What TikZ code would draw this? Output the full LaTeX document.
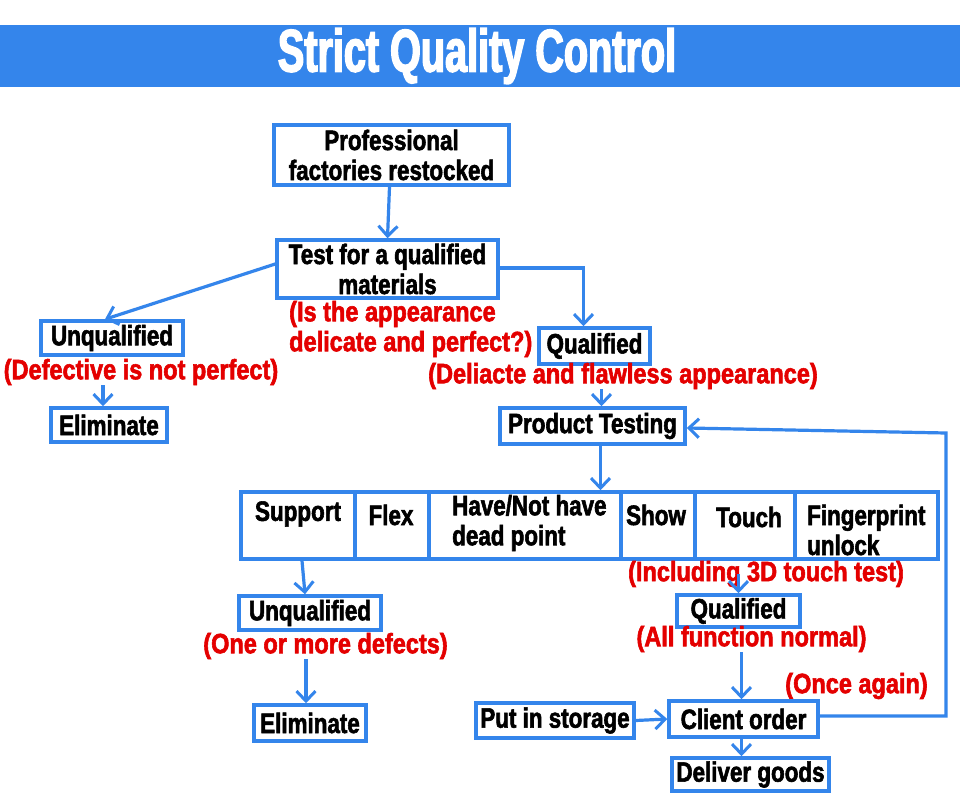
\documentclass[tikz,border=0pt]{standalone}
\usepackage{fontspec}
\usetikzlibrary{arrows.meta}
\newfontfamily\impf{Liberation Sans}[FakeStretch=0.8,BoldFeatures={FakeBold=2}]
\newfontfamily\redf{Liberation Sans}[FakeStretch=0.84,BoldFeatures={FakeBold=2}]
\newfontfamily\titlef{Liberation Sans}[FakeStretch=0.66,BoldFeatures={FakeBold=2.5}]
\definecolor{qblue}{RGB}{52,133,235}
\definecolor{qred}{RGB}{228,0,0}
\tikzset{
  qbox/.style={draw=qblue, line width=3.5pt, fill=white, inner sep=0pt, align=center,
    font=\impf\bfseries\fontsize{28}{30}\selectfont},
  cell/.style={draw=qblue, line width=3.5pt, inner sep=0pt, minimum height=67pt},
  txt/.style={inner sep=0pt, align=center, font=\impf\bfseries\fontsize{28}{30}\selectfont},
  rtxt/.style={inner sep=0pt, align=center, text=qred, font=\redf\bfseries\fontsize{28}{30}\selectfont},
  arr/.style={draw=qblue, line width=3.2pt, -{Straight Barb[length=10pt,width=19pt,line width=3pt]}}
}
\begin{document}
\begin{tikzpicture}[x=1pt,y=-1pt]
\useasboundingbox (0,0) rectangle (960,799);
\fill[white] (0,0) rectangle (960,799);
% title
\fill[qblue] (0,25) rectangle (960,87);
\node[inner sep=0pt, text=white, font=\titlef\bfseries\fontsize{60}{64}\selectfont] (title) at (477,56) {Strict Quality Control};

% top part
\node[qbox, minimum width=235pt, minimum height=60pt] (prof) at (391.5,155) {Professional\\factories restocked};
\node[qbox, minimum width=221pt, minimum height=58pt] (test) at (387.5,269) {Test for a qualified\\materials};
\node[rtxt, align=left, anchor=west] (red0) at (289,329) {(Is the appearance\\delicate and perfect?)};
\node[qbox, minimum width=142pt, minimum height=34pt] (unq1) at (112,338) {Unqualified};
\node[rtxt] (red1) at (141,372) {(Defective is not perfect)};
\node[qbox, minimum width=116pt, minimum height=34pt] (elim1) at (109,425) {Eliminate};
\node[qbox, minimum width=111pt, minimum height=36pt] (qual1) at (594.5,346) {Qualified};
\node[rtxt] (red2) at (623,376) {(Deliacte and flawless appearance)};
\node[qbox, minimum width=185pt, minimum height=36pt] (pt) at (592.5,426) {Product Testing};

% test row
\node[cell, minimum width=114pt] (support) at (298,525.5) {};
\node[cell, minimum width=74pt] (flex) at (392,525.5) {};
\node[cell, minimum width=192pt] (dead) at (525,525.5) {};
\node[cell, minimum width=74pt] (show) at (658,525.5) {};
\node[cell, minimum width=100pt] (touch) at (745,525.5) {};
\node[cell, minimum width=143pt] (finger) at (866.5,525.5) {};
\node[txt] (tsupport) at (298,514) {Support};
\node[txt] (tflex) at (391,515) {Flex};
\node[txt, align=left, anchor=west] (tdead) at (452,523) {Have/Not have\\dead point};
\node[txt] (tshow) at (656,515) {Show};
\node[txt] (ttouch) at (749,517) {Touch};
\node[txt, align=left, anchor=west] (tfinger) at (807,530) {Fingerprint\\unlock};

\node[rtxt] (red3) at (766,574) {(Including 3D touch test)};

% bottom
\node[qbox, minimum width=142pt, minimum height=34pt] (unq2) at (310,613) {Unqualified};
\node[rtxt] (red4) at (325.5,646) {(One or more defects)};
\node[qbox, minimum width=112pt, minimum height=36pt] (elim2) at (310,723) {Eliminate};
\node[qbox, minimum width=123pt, minimum height=32pt] (qual2) at (738.5,611) {Qualified};
\node[rtxt] (red5) at (751.5,639) {(All function normal)};
\node[rtxt] (red6) at (856.5,686) {(Once again)};
\node[qbox, minimum width=149pt, minimum height=36pt] (client) at (743.5,719) {Client order};
\node[qbox, minimum width=158pt, minimum height=35pt] (storage) at (555,720.5) {Put in storage};
\node[qbox, minimum width=157pt, minimum height=33pt] (deliver) at (750.5,774.5) {Deliver goods};
\coordinate (corner) at (946,433);

% connectors
\draw[arr] ([xshift=-2pt]prof.south) -- (test.north);
\draw[arr] ([yshift=5pt]test.west) -- ([xshift=-7pt]unq1.north);
\draw[arr] ([yshift=1pt]test.east) -| ([xshift=-11pt]qual1.north);
\draw[arr] ([xshift=-6pt]elim1.north |- red1.south) -- ([xshift=-6pt]elim1.north);
\draw[arr] ([xshift=9pt]pt.north |- red2.south) -- ([xshift=9pt]pt.north);
\draw[arr] ([xshift=8pt]pt.south) -- ([xshift=8pt]pt.south |- dead.north);
\draw[arr] ([xshift=4pt]support.south) -- ([xshift=-5pt]unq2.north);
\draw[arr] (qual2.north |- red3.center) -- (qual2.north);
\draw[arr] ([xshift=-4pt]elim2.north |- red4.south) -- ([xshift=-4pt]elim2.north);
\draw[arr] ([xshift=-2pt]client.north |- red5.south) -- ([xshift=-2pt]client.north);
\draw[arr] (storage.east) -- (client.west);
\draw[arr] ([xshift=-2pt]client.south) -- ([xshift=-2pt]client.south |- deliver.north);
\draw[arr] ([yshift=3pt]client.east) -| (corner) -- ([yshift=-2pt]pt.east);
\end{tikzpicture}
\end{document}
